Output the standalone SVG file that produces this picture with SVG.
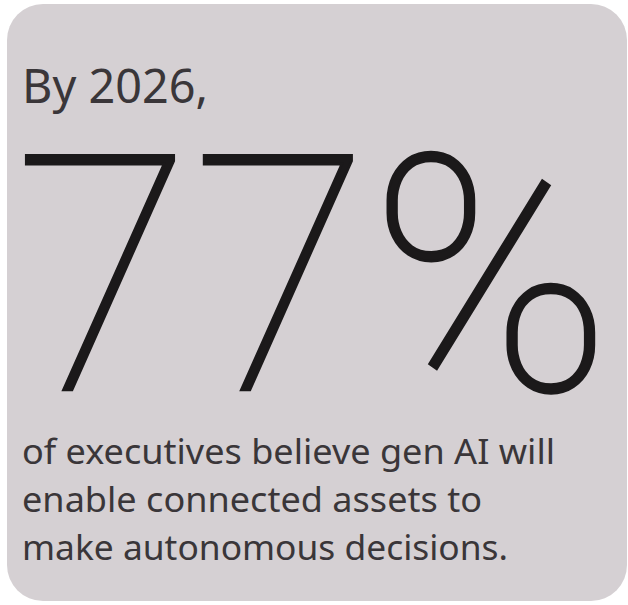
<svg xmlns="http://www.w3.org/2000/svg" width="628" height="605" viewBox="0 0 628 605">
  <style>
    .small { font-family: "Noto Sans", "Liberation Sans", sans-serif; fill: #3a3639; }
    .big { font-family: Roboto, "Liberation Sans", sans-serif; font-weight: 100; fill: #1b191a; stroke: #1b191a; stroke-width: 2.6; }
  </style>
  <rect x="0" y="0" width="628" height="605" fill="#ffffff"/>
  <g id="card">
    <rect x="7" y="4" width="620" height="597" rx="36" ry="36" fill="#d5d0d3"/>
  </g>
  <g id="heading">
    <text class="small" x="22" y="103" font-size="48" textLength="186" lengthAdjust="spacingAndGlyphs">By 2026,</text>
  </g>
  <g id="stat">
    <text class="big" x="14" y="390" font-size="330" textLength="598" lengthAdjust="spacingAndGlyphs">77%</text>
  </g>
  <g id="caption">
    <text class="small" x="22" y="464" font-size="35" textLength="533" lengthAdjust="spacingAndGlyphs">of executives believe gen AI will</text>
    <text class="small" x="22" y="512" font-size="35" textLength="460" lengthAdjust="spacingAndGlyphs">enable connected assets to</text>
    <text class="small" x="22" y="560" font-size="35" textLength="486" lengthAdjust="spacingAndGlyphs">make autonomous decisions.</text>
  </g>
</svg>
